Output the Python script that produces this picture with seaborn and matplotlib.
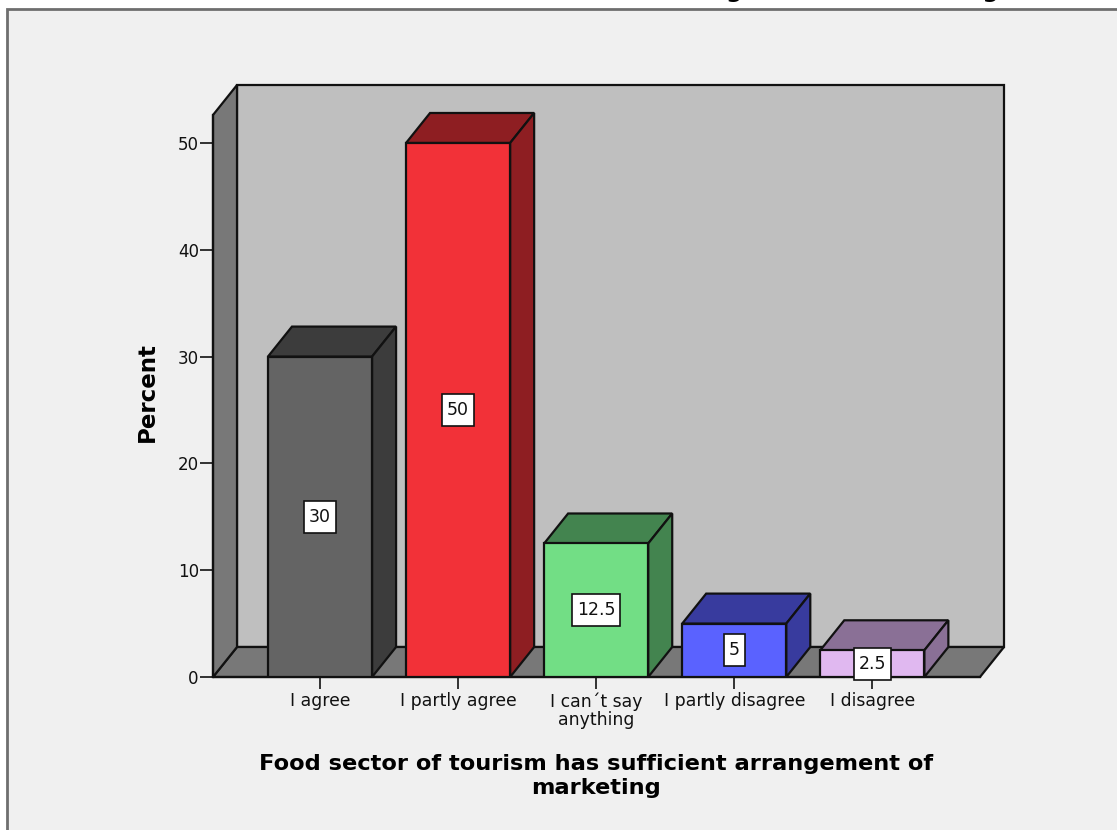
import matplotlib
matplotlib.use("Agg")
import matplotlib.pyplot as plt
from matplotlib.patches import Polygon, Rectangle
import pandas as pd
import seaborn as sns

# values
categories = ["I agree", "I partly agree", "I can´t say\nanything", "I partly disagree", "I disagree"]
percent = [30, 50, 12.5, 5, 2.5]
value_labels = ["30", "50", "12.5", "5", "2.5"]
y_ticks = [0, 10, 20, 30, 40, 50]

front_colors = ["#646464", "#f23138", "#72de85", "#5a62ff", "#e0b8f0"]
dark_colors = ["#3c3c3c", "#8e1e22", "#43844f", "#383b9e", "#8a7096"]

title = "Food sector of tourism has sufficient arrangement of marketing"
x_label = "Food sector of tourism has sufficient arrangement of\nmarketing"
y_label = "Percent"

sns.set_theme(style="white")
plt.rcParams["font.family"] = ["DejaVu Sans"]

W, H = 1117, 830
fig = plt.figure(figsize=(W / 100, H / 100), dpi=100, facecolor="white")

# grey chart panel, runs off the right and bottom of the image
fig.add_artist(Rectangle((7 / W, -0.01), 1.1, 1 - 9 / H + 0.01, transform=fig.transFigure,
                         facecolor="#f0f0f0", edgecolor="#6e6e6e", linewidth=2, zorder=-1))

left, right, top, bottom = 213, 980, 115, 677
ax = fig.add_axes([left / W, 1 - bottom / H, (right - left) / W, (bottom - top) / H])
ax.patch.set_visible(False)

df = pd.DataFrame({"answer": categories, "percent": percent})
sns.barplot(data=df, x="answer", y="percent", hue="answer", palette=front_colors, legend=False,
            width=0.754, edgecolor="#111111", linewidth=1.6, saturation=1, ax=ax, zorder=3)

ax.set_xlim(-0.775, 4.78)
ymax = 52.62
ax.set_ylim(0, ymax)

# 3d depth in data units (24 px right, 30 px up)
dx = 24 / 138
dy = 30 / 10.68
x0, x1 = ax.get_xlim()

wall_style = dict(edgecolor="#111111", linewidth=1.6, clip_on=False, zorder=1)
ax.add_patch(Rectangle((x0 + dx, dy), x1 - x0, ymax, facecolor="#bfbfbf", **wall_style))
ax.add_patch(Polygon([(x0, 0), (x0 + dx, dy), (x1 + dx, dy), (x1, 0)], facecolor="#787878", **wall_style))
ax.add_patch(Polygon([(x0, 0), (x0, ymax), (x0 + dx, ymax + dy), (x0 + dx, dy)], facecolor="#787878", **wall_style))

# top and side faces built from the bars seaborn drew
face_style = dict(edgecolor="#111111", linewidth=1.6, clip_on=False, zorder=2)
renderer = fig.canvas.get_renderer()
for bar, dark, text in zip(ax.patches[:len(percent)], dark_colors, value_labels):
    a = bar.get_x()
    b = a + bar.get_width()
    h = bar.get_height()
    ax.add_patch(Polygon([(a, h), (a + dx, h + dy), (b + dx, h + dy), (b, h)], facecolor=dark, **face_style))
    ax.add_patch(Polygon([(b, 0), (b, h), (b + dx, h + dy), (b + dx, dy)], facecolor=dark, **face_style))
    label = ax.text((a + b) / 2, h / 2, text, ha="center", va="center", fontsize=12.5, color="#111111", zorder=6)
    # white label box, taller than the text, 32 px high
    box_w = (label.get_window_extent(renderer).width + 10) / 138
    box_h = 32 / 10.68
    ax.add_patch(Rectangle(((a + b) / 2 - box_w / 2, h / 2 - box_h / 2), box_w, box_h, facecolor="white",
                           edgecolor="#111111", linewidth=1.2, clip_on=False, zorder=5))

ax.set_yticks(y_ticks)
ax.tick_params(axis="y", length=9.2, width=1.2, color="#111111", left=True, labelsize=12, pad=1, labelcolor="#111111")
ax.tick_params(axis="x", length=8.6, width=1.2, color="#111111", bottom=True, labelsize=12.4, pad=2.5, labelcolor="#111111")
for label in ax.get_xticklabels():
    label.set_linespacing(1.02)

for side in ["top", "right"]:
    ax.spines[side].set_visible(False)
for side in ["left", "bottom"]:
    ax.spines[side].set_color("#111111")
    ax.spines[side].set_linewidth(1.6)
    ax.spines[side].set_zorder(2)

ax.set_xlabel("")
ax.set_ylabel("")
fig.text(147 / W, 1 - 392 / H, y_label, rotation=90, ha="center", va="center",
         fontsize=16.5, fontweight="bold", color="black")
fig.text(596 / W, 1 - 776 / H, x_label, ha="center", va="center", fontsize=16.2, fontweight="bold",
         color="black", linespacing=1.2)

# chart title is cut off by the top of the image, only its descenders show
fig.text(585 / W, 1 + 3 / H, title, ha="center", va="baseline", fontsize=16.6, fontweight="bold", color="black")

fig.savefig("out.png", dpi=100, facecolor="white")
